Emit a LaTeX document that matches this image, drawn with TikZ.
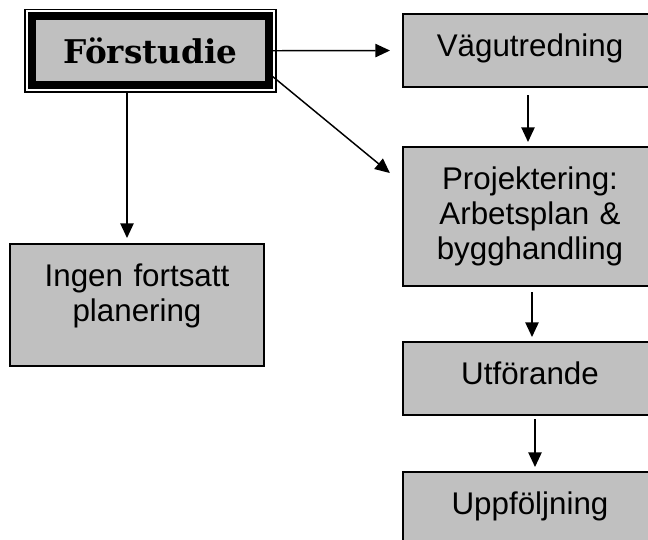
\documentclass[tikz,border=0pt]{standalone}
\usepackage{fontspec}
\setmainfont{Liberation Sans}
\newfontfamily\headfont{DejaVu Serif}
\usetikzlibrary{arrows.meta,fit,calc}
\definecolor{boxgray}{RGB}{192,192,192}
\tikzset{
  box/.style={draw, line width=1.5pt, fill=boxgray, text width=190.5pt, inner sep=0pt, outer sep=0pt,
    align=center, anchor=north, text height=31.5pt, font=\fontsize{23.5}{26.6}\selectfont},
  arr/.style={line width=1.1pt, -{Triangle[length=11pt,width=10pt]}},
}
\begin{document}
\begin{tikzpicture}[x=0.75pt,y=0.75pt,yscale=-1,xscale=1]
\useasboundingbox (0,0) rectangle (648,539);
\clip (0,0) rectangle (648,539);

%Shape: Rectangle [id:forstudie]
\node [draw, line width=6pt, fill=boxgray, minimum width=177.75pt, minimum height=51.4pt, inner sep=0pt,
  font=\headfont\bfseries\fontsize{24.5}{28}\selectfont] (fs) at (150.5,50.75) {Förstudie};
\node [draw, line width=1.25pt, fit=(fs), inner sep=2.25pt] (fsframe) {};

%Shape: Rectangle [id:steps]
\node [box, text depth=23.25pt] (vag) at (530,14) {Vägutredning};
\node [box, text depth=72.75pt] (proj) at (530,147) {Projektering:\\ Arbetsplan \&\\ bygghandling};
\node [box, text depth=23.25pt] (utf) at (530,342) {Utförande};
\node [box, text depth=23.25pt] (upp) at (530,472) {Uppföljning};
\node [box, text depth=60pt] (ingen) at (137,244) {Ingen fortsatt\\ planering};

%Straight Lines [id:arrows]
\draw [arr, shorten >=9.75pt] (fs.east) -- (vag.west) ;
\draw [arr, shorten >=12.75pt] (fs.-12) -- ($(proj.north west)!0.265!(proj.south west)$) ;
\draw [arr, shorten >=4.5pt] ($(ingen.north |- fsframe.south)+(-10,0)$) -- ($(ingen.north)+(-10,0)$) ;
\draw [arr, shorten <=6pt, shorten >=3.75pt] ($(vag.south)+(-2,0)$) -- ($(proj.north)+(-2,0)$) ;
\draw [arr, shorten <=4.5pt, shorten >=3.75pt] ($(proj.south)+(2,0)$) -- ($(utf.north)+(2,0)$) ;
\draw [arr, shorten <=3pt, shorten >=3.75pt] ($(utf.south)+(5,0)$) -- ($(upp.north)+(5,0)$) ;

\end{tikzpicture}
\end{document}
